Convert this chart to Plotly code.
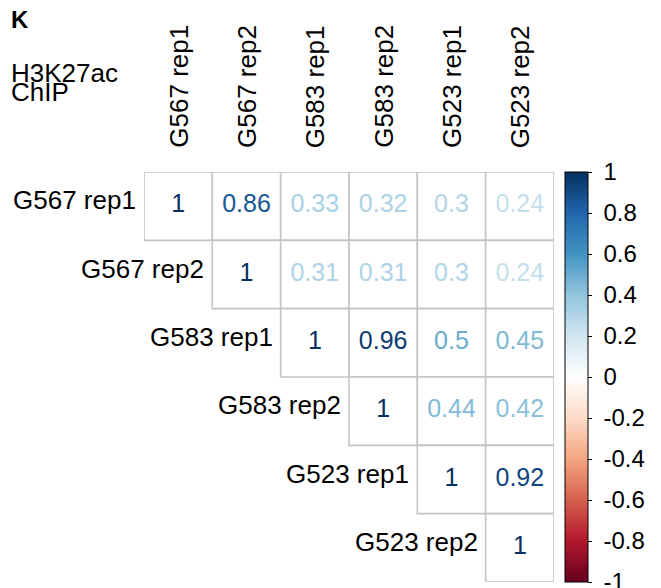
import plotly.graph_objects as go
from plotly.colors import sample_colorscale

# Samples (rows / columns of the correlation matrix)
samples = ["G567 rep1", "G567 rep2", "G583 rep1", "G583 rep2", "G523 rep1", "G523 rep2"]

# Upper-triangle Pearson correlations, one list per row (starting at the diagonal)
row_g567_rep1 = [1, 0.86, 0.33, 0.32, 0.3, 0.24]
row_g567_rep2 = [1, 0.31, 0.31, 0.3, 0.24]
row_g583_rep1 = [1, 0.96, 0.5, 0.45]
row_g583_rep2 = [1, 0.44, 0.42]
row_g523_rep1 = [1, 0.92]
row_g523_rep2 = [1]
upper_rows = [row_g567_rep1, row_g567_rep2, row_g583_rep1,
              row_g583_rep2, row_g523_rep1, row_g523_rep2]

# Colour bar ticks
cbar_vals = [1, 0.8, 0.6, 0.4, 0.2, 0, -0.2, -0.4, -0.6, -0.8, -1]
cbar_text = ["1", "0.8", "0.6", "0.4", "0.2", "0", "-0.2", "-0.4", "-0.6", "-0.8", "-1"]

# corrplot-style RdBu diverging palette
rdbu = ["#67001F", "#B2182B", "#D6604D", "#F4A582", "#FDDBC7", "#FFFFFF",
        "#D1E5F0", "#92C5DE", "#4393C3", "#2166AC", "#053061"]
colorscale = [[k / (len(rdbu) - 1), c] for k, c in enumerate(rdbu)]

FONT = "Liberation Sans, Arial, Helvetica, sans-serif"
n = len(samples)

xs, ys, vals = [], [], []
for i, row in enumerate(upper_rows):
    for k, v in enumerate(row):
        xs.append(i + k)
        ys.append(i)
        vals.append(v)

labels = [f"{round(v, 2):g}" for v in vals]
text_colors = sample_colorscale(colorscale, [(v + 1) / 2 for v in vals])

fig = go.Figure()

# cell frames of the upper triangle
for i in range(n):
    for j in range(i, n):
        fig.add_shape(type="rect", xref="x", yref="y",
                      x0=j - 0.5, x1=j + 0.5, y0=i - 0.5, y1=i + 0.5,
                      fillcolor="white", line=dict(color="#c4c4c4", width=1.6),
                      layer="below")

# coefficient values, coloured by the palette
fig.add_trace(go.Scatter(
    x=xs, y=ys, mode="text", text=labels,
    textfont=dict(family=FONT, size=25, color=text_colors),
    hoverinfo="skip", showlegend=False,
))

# invisible markers carrying the colour bar
fig.add_trace(go.Scatter(
    x=xs, y=ys, mode="markers", hoverinfo="skip", showlegend=False,
    marker=dict(size=1, opacity=0, color=vals, colorscale=colorscale,
                cmin=-1, cmax=1, showscale=True,
                colorbar=dict(
                    x=1.027, xanchor="left", y=0.5, yanchor="middle",
                    len=1, lenmode="fraction", thickness=23, thicknessmode="pixels",
                    xpad=0, ypad=0, outlinecolor="black", outlinewidth=1,
                    tickmode="array", tickvals=cbar_vals,
                    ticktext=["\u00a0" + t for t in cbar_text],
                    ticks="outside", ticklen=4, tickcolor="black", tickwidth=1,
                    ticklabeloverflow="allow",
                    tickfont=dict(family=FONT, size=24, color="black"),
                )),
))

annotations = []
# row labels, right-aligned next to the diagonal cell
for i, name in enumerate(samples):
    annotations.append(dict(x=i - 0.5, y=i, xref="x", yref="y", text=name,
                            xanchor="right", yanchor="middle", xshift=-6, yshift=6,
                            showarrow=False, font=dict(family=FONT, size=26, color="black")))
# column labels, vertical above the matrix
for j, name in enumerate(samples):
    annotations.append(dict(x=j, y=-0.5, xref="x", yref="y", text=name, textangle=-90,
                            xanchor="center", yanchor="bottom", yshift=22,
                            showarrow=False, font=dict(family=FONT, size=26, color="black")))
# panel letter and assay title
annotations.append(dict(x=-0.33, y=1.373, xref="paper", yref="paper", text="K",
                        xanchor="left", yanchor="middle", showarrow=False,
                        font=dict(family=FONT, size=24, color="black", weight="bold")))
annotations.append(dict(x=-0.33, y=1.2415, xref="paper", yref="paper", text="H3K27ac",
                        xanchor="left", yanchor="middle", showarrow=False,
                        font=dict(family=FONT, size=26, color="black")))
annotations.append(dict(x=-0.33, y=1.196, xref="paper", yref="paper", text="ChIP",
                        xanchor="left", yanchor="middle", showarrow=False,
                        font=dict(family=FONT, size=26, color="black")))

fig.update_layout(
    width=661, height=588,
    margin=dict(l=144, r=107, t=172, b=6),
    paper_bgcolor="white", plot_bgcolor="white",
    xaxis=dict(range=[-0.5, n - 0.5], visible=False, fixedrange=True),
    yaxis=dict(range=[n - 0.5, -0.5], visible=False, fixedrange=True),
    annotations=annotations,
)

fig.write_html("out.html")
